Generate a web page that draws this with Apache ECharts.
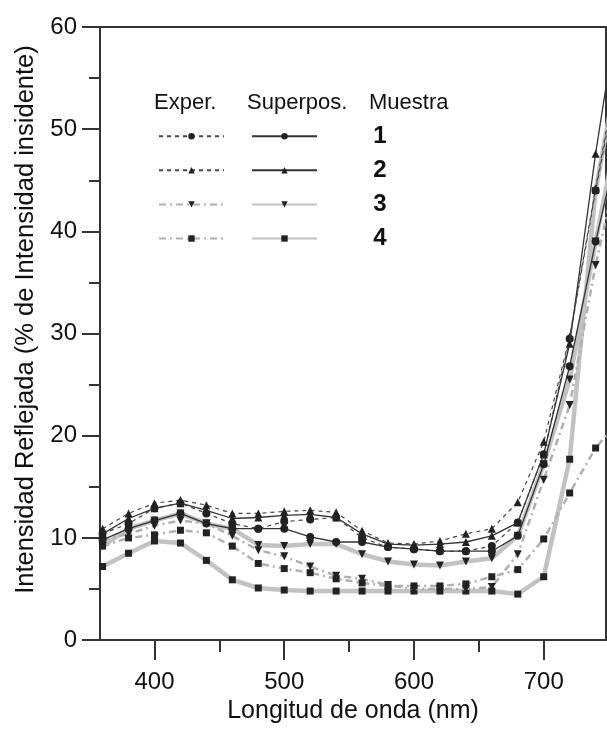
<!DOCTYPE html>
<html>
<head>
<meta charset="utf-8">
<script src="https://cdn.jsdelivr.net/npm/echarts@6/dist/echarts.min.js"></script>
<style>
html, body { margin: 0; padding: 0; background: #fff; }
#chart { width: 607px; height: 729px; }
</style>
</head>
<body>
<div id="chart"></div>
<script>
// longitud de onda (nm)
const wavelengths = [360, 380, 400, 420, 440, 460, 480, 500, 520, 540, 560, 580, 600, 620, 640, 660, 680, 700, 720, 740, 760];

// muestra 1 (circulo)
const exp1 = [10.4, 11.4, 12.9, 13.4, 12.4, 11.4, 10.9, 11.6, 11.8, 12.0, 10.0, 9.1, 8.9, 8.7, 8.7, 9.2, 11.5, 18.2, 29.5, 44.0, 57];
const sup1 = [9.8, 10.9, 11.7, 12.4, 11.4, 10.9, 10.9, 10.9, 10.1, 9.6, 9.6, 9.1, 8.9, 8.7, 8.7, 8.7, 10.2, 17.2, 26.8, 39.0, 50];
// muestra 2 (triangulo)
const exp2 = [10.9, 12.4, 13.4, 13.7, 13.2, 12.4, 12.4, 12.6, 12.7, 12.5, 10.7, 9.5, 9.4, 9.7, 10.4, 10.9, 13.5, 19.4, 29.7, 44.2, 58];
const sup2 = [10.4, 11.9, 12.9, 13.4, 12.7, 11.9, 12.0, 12.2, 12.3, 12.0, 10.4, 9.4, 9.3, 9.4, 9.6, 10.2, 11.5, 18.2, 29.0, 47.6, 64];
// muestra 3 (triangulo invertido)
const exp3 = [9.8, 10.4, 11.2, 11.7, 11.4, 10.2, 8.8, 8.2, 7.2, 6.3, 6.0, 5.4, 5.0, 5.0, 5.0, 5.2, 8.4, 15.7, 23.0, 36.7, 48];
const sup3 = [9.2, 10.9, 11.7, 12.4, 11.4, 10.9, 9.3, 9.2, 9.4, 9.4, 8.4, 7.7, 7.4, 7.3, 7.7, 8.0, 10.2, 17.2, 25.5, 39.0, 52];
// muestra 4 (cuadrado)
const exp4 = [9.2, 10.0, 10.3, 10.75, 10.5, 9.2, 7.5, 7.0, 6.6, 6.0, 5.6, 5.3, 5.3, 5.3, 5.5, 6.2, 6.9, 9.9, 14.4, 18.8, 21.8];
const sup4 = [7.2, 8.5, 9.7, 9.5, 7.8, 5.9, 5.1, 4.9, 4.8, 4.8, 4.8, 4.8, 4.8, 4.8, 4.8, 4.8, 4.5, 6.2, 17.7, 44, 58];

const xMajorTicks = [400, 500, 600, 700];
const xMinorTicks = [450, 550, 650];
const sampleLabels = ['1', '2', '3', '4'];

const font = '"Liberation Sans", Arial, sans-serif';
const textColor = '#111';
const axisColor = '#333';

const darkDash = { color: '#444', width: 1.2, type: [4, 4] };
const grayDashDot = { color: '#b0b0b0', width: 2.5, type: [7, 4, 2, 4] };
const darkSolid = { color: '#333', width: 1.3, type: 'solid' };
const graySolid = { color: '#c2c2c2', width: 4.5, type: 'solid' };

function pairs(values) {
  return wavelengths.map((w, i) => [w, values[i]]);
}

function makeSeries(name, values, symbol, rotate, lineStyle, z) {
  return {
    name: name,
    type: 'line',
    data: pairs(values),
    symbol: symbol,
    symbolRotate: rotate,
    symbolSize: symbol === 'rect' ? 7 : 8,
    lineStyle: lineStyle,
    itemStyle: { color: '#222' },
    z: z,
    animation: false
  };
}

const series = [
  makeSeries('Superpos. 4', sup4, 'rect', 0, graySolid, 1),
  makeSeries('Superpos. 3', sup3, 'triangle', 180, graySolid, 1),
  makeSeries('Exper. 4', exp4, 'rect', 0, grayDashDot, 2),
  makeSeries('Exper. 3', exp3, 'triangle', 180, grayDashDot, 2),
  makeSeries('Exper. 1', exp1, 'circle', 0, darkDash, 3),
  makeSeries('Exper. 2', exp2, 'triangle', 0, darkDash, 3),
  makeSeries('Superpos. 1', sup1, 'circle', 0, darkSolid, 4),
  makeSeries('Superpos. 2', sup2, 'triangle', 0, darkSolid, 4)
];

const legendBase = {
  orient: 'vertical',
  top: 128,
  itemWidth: 65,
  itemHeight: 8,
  itemGap: 27.7,
  selectedMode: false,
  formatter: () => '',
  textStyle: { fontSize: 8, lineHeight: 8 }
};

const headerStyle = { font: '22px ' + font, fill: textColor, verticalAlign: 'middle' };
const graphics = [
  { type: 'text', x: 154, y: 103, style: Object.assign({ text: 'Exper.' }, headerStyle) },
  { type: 'text', x: 247, y: 103, style: Object.assign({ text: 'Superpos.' }, headerStyle) },
  { type: 'text', x: 369, y: 103, style: Object.assign({ text: 'Muestra' }, headerStyle) }
];
sampleLabels.forEach((s, i) => {
  graphics.push({
    type: 'text', x: 380, y: 136 + i * 34,
    style: { text: s, font: 'bold 24px ' + font, fill: textColor, align: 'center', verticalAlign: 'middle' }
  });
});

const chart = echarts.init(document.getElementById('chart'));
chart.setOption({
  backgroundColor: '#fff',
  animation: false,
  grid: {
    left: 100, right: 1, top: 27, bottom: 88,
    show: true, borderColor: axisColor, borderWidth: 2, backgroundColor: 'transparent'
  },
  legend: [
    Object.assign({ left: 153, data: ['Exper. 1', 'Exper. 2', 'Exper. 3', 'Exper. 4'] }, legendBase),
    Object.assign({ left: 246, data: ['Superpos. 1', 'Superpos. 2', 'Superpos. 3', 'Superpos. 4'] }, legendBase)
  ],
  graphic: graphics,
  xAxis: [
    {
      type: 'value',
      min: 358,
      max: 748,
      name: 'Longitud de onda (nm)',
      nameLocation: 'middle',
      nameGap: 57,
      nameTextStyle: { fontFamily: font, fontSize: 25, color: textColor },
      axisLine: { lineStyle: { color: axisColor, width: 2 } },
      axisTick: { customValues: xMajorTicks, length: 20, lineStyle: { color: axisColor, width: 2 } },
      axisLabel: { customValues: xMajorTicks, margin: 30, fontFamily: font, fontSize: 24, color: textColor },
      splitLine: { show: false }
    },
    {
      type: 'value',
      min: 358,
      max: 748,
      position: 'bottom',
      axisLine: { show: false },
      axisTick: { customValues: xMinorTicks, length: 12, lineStyle: { color: axisColor, width: 2 } },
      axisLabel: { show: false },
      splitLine: { show: false }
    }
  ],
  yAxis: {
    type: 'value',
    min: 0,
    max: 60,
    interval: 10,
    name: 'Intensidad Reflejada (% de Intensidad insidente)',
    nameLocation: 'middle',
    nameGap: 60,
    nameTextStyle: { fontFamily: font, fontSize: 25.5, color: textColor, padding: [0, 0, 0, 28] },
    axisLine: { lineStyle: { color: axisColor, width: 2 } },
    axisTick: { length: 18, lineStyle: { color: axisColor, width: 2 } },
    minorTick: { show: true, splitNumber: 2, length: 11, lineStyle: { color: axisColor, width: 2 } },
    axisLabel: { margin: 23, fontFamily: font, fontSize: 24, color: textColor },
    splitLine: { show: false }
  },
  series: series
});
</script>
</body>
</html>
